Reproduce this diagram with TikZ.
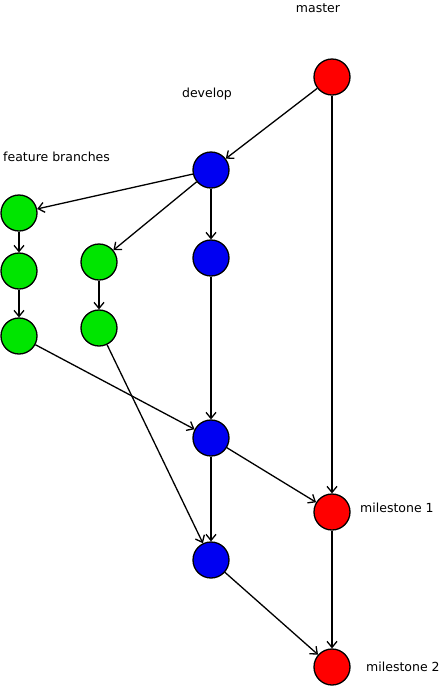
\documentclass[tikz,border=0pt]{standalone}
\usepackage{fontspec}
\setmainfont{DejaVu Sans}
\usetikzlibrary{arrows.meta}
\definecolor{ffqqqq}{rgb}{1,0,0}
\definecolor{qqffqq}{rgb}{0,0.9,0}
\definecolor{qqqqff}{rgb}{0,0,0.95}
\tikzset{
  commit/.style={circle, draw=black, line width=1.3pt, minimum size=36pt, inner sep=0pt},
  mcommit/.style={commit, fill=ffqqqq},
  dcommit/.style={commit, fill=qqqqff},
  fcommit/.style={commit, fill=qqffqq},
  flow/.style={-{Straight Barb[length=6pt,width=10pt]}, line width=1.3pt},
  lbl/.style={font=\fontsize{12.5}{14}\selectfont, inner sep=0pt}
}
\begin{document}
\begin{tikzpicture}[x=1pt,y=-1pt]
			\useasboundingbox (0,0) rectangle (442,689);
			\node [mcommit] (m0) at (332,77) {};
			\node [mcommit] (m1) at (332,512) {};
			\node [mcommit] (m2) at (332,667) {};
			\node [dcommit] (d0) at (211,170) {};
			\node [dcommit] (d1) at (211,258) {};
			\node [dcommit] (d2) at (211,438) {};
			\node [dcommit] (d3) at (211,560) {};
			\node [fcommit] (fa1) at (19,213) {};
			\node [fcommit] (fa2) at (19,271) {};
			\node [fcommit] (fa3) at (19,336) {};
			\node [fcommit] (fb1) at (99,262) {};
			\node [fcommit] (fb2) at (99,328) {};
			\draw [flow] (m0) -- (d0);
			\draw [flow] (m0) -- (m1);
			\draw [flow] (d0) -- (fa1);
			\draw [flow] (d0) -- (fb1);
			\draw [flow] (d0) -- (d1);
			\draw [flow] (fa1) -- (fa2);
			\draw [flow] (fa2) -- (fa3);
			\draw [flow] (fb1) -- (fb2);
			\draw [flow] (d1) -- (d2);
			\draw [flow] (fa3) -- (d2);
			\draw [flow] (fb2) -- (d3);
			\draw [flow] (d2) -- (d3);
			\draw [flow] (d2) -- (m1);
			\draw [flow] (d3) -- (m2);
			\draw [flow] (m1) -- (m2);
			\node [lbl] (tmaster) at (318,8) {master};
			\node [lbl] (tdevelop) at (207,94) {develop};
			\node [lbl, anchor=west] (tfeature) at (3,157) {feature branches};
			\node [lbl, anchor=west] (tmile1) at (360,508) {milestone 1};
			\node [lbl, anchor=west] (tmile2) at (366,667) {milestone 2};
			\end{tikzpicture}
\end{document}
